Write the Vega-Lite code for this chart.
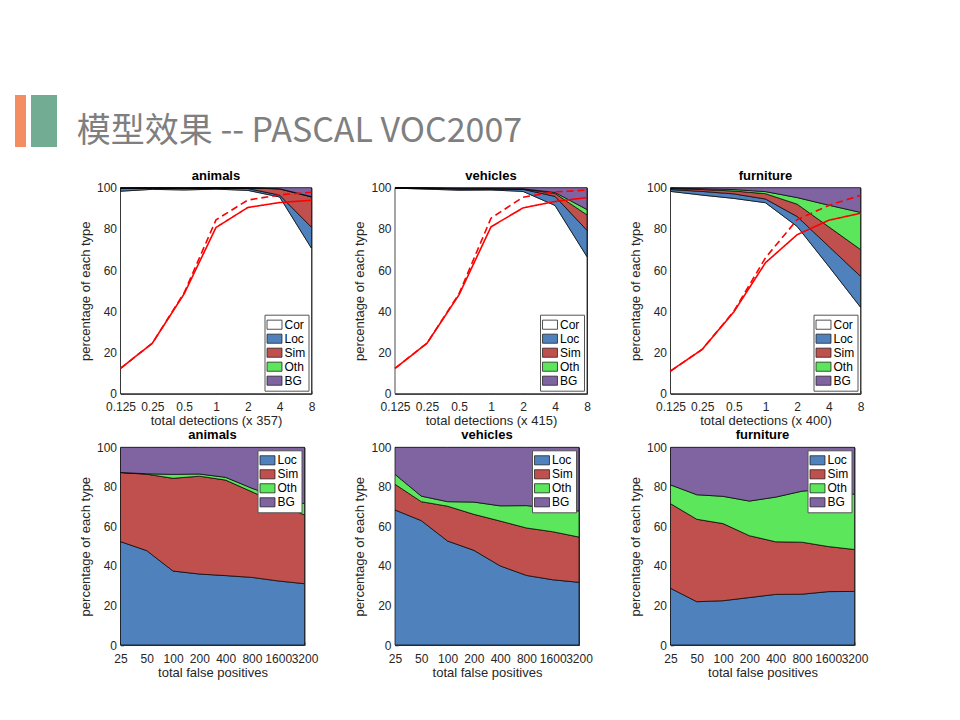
{
"$schema": "https://vega.github.io/schema/vega-lite/v6.json",
"background": "white",
"padding": {"left": 15, "top": 95, "right": 5, "bottom": 5},
"bounds": "flush",
"spacing": 40.7,
"resolve": {"scale": {"color": "independent"}, "legend": {"color": "independent"}},
"config": {
  "font": "Liberation Sans",
  "view": {"stroke": "#404040", "strokeWidth": 1},
  "axis": {"grid": false, "labelFont": "Liberation Sans", "labelFontSize": 12, "labelColor": "#262626", "titleFont": "Liberation Sans", "titleFontSize": 13, "titleFontWeight": "normal", "titleColor": "#262626", "domainColor": "#404040", "tickColor": "#404040", "tickSize": -3, "labelPadding": 7, "titlePadding": 4},
  "axisX": {"labelPadding": 11, "titlePadding": 2},
  "title": {"font": "Liberation Sans", "fontSize": 13, "fontWeight": "bold", "color": "#000000", "offset": -1, "anchor": "middle"},
  "legend": {"symbolType": "M-1.15,-0.7H1.15V0.7H-1.15Z", "symbolSize": 169, "symbolStrokeColor": "#262626", "symbolStrokeWidth": 0.8, "symbolOpacity": 1, "labelFont": "Liberation Sans", "labelFontSize": 12, "labelColor": "#000000", "fillColor": "#ffffff", "strokeColor": "#555555", "padding": 3, "rowPadding": 0, "labelOffset": 3, "offset": 3}
},
"datasets": {
"areas": [
{"p":"tl","x":0.125,"t":"Cor","lo":0,"hi":98.3},{"p":"tl","x":0.125,"t":"Loc","lo":98.3,"hi":99.7},{"p":"tl","x":0.125,"t":"Sim","lo":99.7,"hi":99.8},{"p":"tl","x":0.125,"t":"Oth","lo":99.8,"hi":99.8},{"p":"tl","x":0.125,"t":"BG","lo":99.8,"hi":100},
{"p":"tl","x":0.25,"t":"Cor","lo":0,"hi":99.2},{"p":"tl","x":0.25,"t":"Loc","lo":99.2,"hi":99.8},{"p":"tl","x":0.25,"t":"Sim","lo":99.8,"hi":99.9},{"p":"tl","x":0.25,"t":"Oth","lo":99.9,"hi":99.9},{"p":"tl","x":0.25,"t":"BG","lo":99.9,"hi":100},
{"p":"tl","x":0.5,"t":"Cor","lo":0,"hi":98.9},{"p":"tl","x":0.5,"t":"Loc","lo":98.9,"hi":99.7},{"p":"tl","x":0.5,"t":"Sim","lo":99.7,"hi":99.8},{"p":"tl","x":0.5,"t":"Oth","lo":99.8,"hi":99.8},{"p":"tl","x":0.5,"t":"BG","lo":99.8,"hi":100},
{"p":"tl","x":1,"t":"Cor","lo":0,"hi":99.3},{"p":"tl","x":1,"t":"Loc","lo":99.3,"hi":99.8},{"p":"tl","x":1,"t":"Sim","lo":99.8,"hi":99.9},{"p":"tl","x":1,"t":"Oth","lo":99.9,"hi":99.9},{"p":"tl","x":1,"t":"BG","lo":99.9,"hi":100},
{"p":"tl","x":2,"t":"Cor","lo":0,"hi":98.7},{"p":"tl","x":2,"t":"Loc","lo":98.7,"hi":99.6},{"p":"tl","x":2,"t":"Sim","lo":99.6,"hi":99.9},{"p":"tl","x":2,"t":"Oth","lo":99.9,"hi":99.9},{"p":"tl","x":2,"t":"BG","lo":99.9,"hi":100},
{"p":"tl","x":4,"t":"Cor","lo":0,"hi":95.5},{"p":"tl","x":4,"t":"Loc","lo":95.5,"hi":96.4},{"p":"tl","x":4,"t":"Sim","lo":96.4,"hi":99.4},{"p":"tl","x":4,"t":"Oth","lo":99.4,"hi":99.5},{"p":"tl","x":4,"t":"BG","lo":99.5,"hi":100},
{"p":"tl","x":8,"t":"Cor","lo":0,"hi":70.6},{"p":"tl","x":8,"t":"Loc","lo":70.6,"hi":80.8},{"p":"tl","x":8,"t":"Sim","lo":80.8,"hi":95.5},{"p":"tl","x":8,"t":"Oth","lo":95.5,"hi":95.7},{"p":"tl","x":8,"t":"BG","lo":95.7,"hi":100},
{"p":"tm","x":0.125,"t":"Cor","lo":0,"hi":99.8},{"p":"tm","x":0.125,"t":"Loc","lo":99.8,"hi":99.9},{"p":"tm","x":0.125,"t":"Sim","lo":99.9,"hi":99.95},{"p":"tm","x":0.125,"t":"Oth","lo":99.95,"hi":99.95},{"p":"tm","x":0.125,"t":"BG","lo":99.95,"hi":100},
{"p":"tm","x":0.25,"t":"Cor","lo":0,"hi":99.3},{"p":"tm","x":0.25,"t":"Loc","lo":99.3,"hi":99.7},{"p":"tm","x":0.25,"t":"Sim","lo":99.7,"hi":99.8},{"p":"tm","x":0.25,"t":"Oth","lo":99.8,"hi":99.8},{"p":"tm","x":0.25,"t":"BG","lo":99.8,"hi":100},
{"p":"tm","x":0.5,"t":"Cor","lo":0,"hi":98.8},{"p":"tm","x":0.5,"t":"Loc","lo":98.8,"hi":99.4},{"p":"tm","x":0.5,"t":"Sim","lo":99.4,"hi":99.5},{"p":"tm","x":0.5,"t":"Oth","lo":99.5,"hi":99.6},{"p":"tm","x":0.5,"t":"BG","lo":99.6,"hi":100},
{"p":"tm","x":1,"t":"Cor","lo":0,"hi":98.9},{"p":"tm","x":1,"t":"Loc","lo":98.9,"hi":99.4},{"p":"tm","x":1,"t":"Sim","lo":99.4,"hi":99.5},{"p":"tm","x":1,"t":"Oth","lo":99.5,"hi":99.6},{"p":"tm","x":1,"t":"BG","lo":99.6,"hi":100},
{"p":"tm","x":2,"t":"Cor","lo":0,"hi":98.2},{"p":"tm","x":2,"t":"Loc","lo":98.2,"hi":99.2},{"p":"tm","x":2,"t":"Sim","lo":99.2,"hi":99.4},{"p":"tm","x":2,"t":"Oth","lo":99.4,"hi":99.5},{"p":"tm","x":2,"t":"BG","lo":99.5,"hi":100},
{"p":"tm","x":4,"t":"Cor","lo":0,"hi":91.4},{"p":"tm","x":4,"t":"Loc","lo":91.4,"hi":95.8},{"p":"tm","x":4,"t":"Sim","lo":95.8,"hi":97.2},{"p":"tm","x":4,"t":"Oth","lo":97.2,"hi":97.7},{"p":"tm","x":4,"t":"BG","lo":97.7,"hi":100},
{"p":"tm","x":8,"t":"Cor","lo":0,"hi":66.5},{"p":"tm","x":8,"t":"Loc","lo":66.5,"hi":79.3},{"p":"tm","x":8,"t":"Sim","lo":79.3,"hi":86.8},{"p":"tm","x":8,"t":"Oth","lo":86.8,"hi":89.4},{"p":"tm","x":8,"t":"BG","lo":89.4,"hi":100},
{"p":"tr","x":0.125,"t":"Cor","lo":0,"hi":98.2},{"p":"tr","x":0.125,"t":"Loc","lo":98.2,"hi":99.1},{"p":"tr","x":0.125,"t":"Sim","lo":99.1,"hi":99.6},{"p":"tr","x":0.125,"t":"Oth","lo":99.6,"hi":99.8},{"p":"tr","x":0.125,"t":"BG","lo":99.8,"hi":100},
{"p":"tr","x":0.25,"t":"Cor","lo":0,"hi":96.4},{"p":"tr","x":0.25,"t":"Loc","lo":96.4,"hi":98.2},{"p":"tr","x":0.25,"t":"Sim","lo":98.2,"hi":99.1},{"p":"tr","x":0.25,"t":"Oth","lo":99.1,"hi":99.5},{"p":"tr","x":0.25,"t":"BG","lo":99.5,"hi":100},
{"p":"tr","x":0.5,"t":"Cor","lo":0,"hi":94.8},{"p":"tr","x":0.5,"t":"Loc","lo":94.8,"hi":97.0},{"p":"tr","x":0.5,"t":"Sim","lo":97.0,"hi":98.4},{"p":"tr","x":0.5,"t":"Oth","lo":98.4,"hi":99.1},{"p":"tr","x":0.5,"t":"BG","lo":99.1,"hi":100},
{"p":"tr","x":1,"t":"Cor","lo":0,"hi":92.7},{"p":"tr","x":1,"t":"Loc","lo":92.7,"hi":94.5},{"p":"tr","x":1,"t":"Sim","lo":94.5,"hi":97.1},{"p":"tr","x":1,"t":"Oth","lo":97.1,"hi":98.1},{"p":"tr","x":1,"t":"BG","lo":98.1,"hi":100},
{"p":"tr","x":2,"t":"Cor","lo":0,"hi":81.2},{"p":"tr","x":2,"t":"Loc","lo":81.2,"hi":86.0},{"p":"tr","x":2,"t":"Sim","lo":86.0,"hi":92.0},{"p":"tr","x":2,"t":"Oth","lo":92.0,"hi":95.2},{"p":"tr","x":2,"t":"BG","lo":95.2,"hi":100},
{"p":"tr","x":4,"t":"Cor","lo":0,"hi":61.8},{"p":"tr","x":4,"t":"Loc","lo":61.8,"hi":71.5},{"p":"tr","x":4,"t":"Sim","lo":71.5,"hi":81.0},{"p":"tr","x":4,"t":"Oth","lo":81.0,"hi":91.5},{"p":"tr","x":4,"t":"BG","lo":91.5,"hi":100},
{"p":"tr","x":8,"t":"Cor","lo":0,"hi":42.0},{"p":"tr","x":8,"t":"Loc","lo":42.0,"hi":57.0},{"p":"tr","x":8,"t":"Sim","lo":57.0,"hi":70.0},{"p":"tr","x":8,"t":"Oth","lo":70.0,"hi":88.0},{"p":"tr","x":8,"t":"BG","lo":88.0,"hi":100},
{"p":"bl","x":25,"t":"Loc","lo":0,"hi":52.3},{"p":"bl","x":25,"t":"Sim","lo":52.3,"hi":87.2},{"p":"bl","x":25,"t":"Oth","lo":87.2,"hi":87.3},{"p":"bl","x":25,"t":"BG","lo":87.3,"hi":100},
{"p":"bl","x":50,"t":"Loc","lo":0,"hi":47.7},{"p":"bl","x":50,"t":"Sim","lo":47.7,"hi":86.4},{"p":"bl","x":50,"t":"Oth","lo":86.4,"hi":86.6},{"p":"bl","x":50,"t":"BG","lo":86.6,"hi":100},
{"p":"bl","x":100,"t":"Loc","lo":0,"hi":37.4},{"p":"bl","x":100,"t":"Sim","lo":37.4,"hi":84.3},{"p":"bl","x":100,"t":"Oth","lo":84.3,"hi":86.3},{"p":"bl","x":100,"t":"BG","lo":86.3,"hi":100},
{"p":"bl","x":200,"t":"Loc","lo":0,"hi":35.9},{"p":"bl","x":200,"t":"Sim","lo":35.9,"hi":85.4},{"p":"bl","x":200,"t":"Oth","lo":85.4,"hi":86.5},{"p":"bl","x":200,"t":"BG","lo":86.5,"hi":100},
{"p":"bl","x":400,"t":"Loc","lo":0,"hi":35.1},{"p":"bl","x":400,"t":"Sim","lo":35.1,"hi":83.4},{"p":"bl","x":400,"t":"Oth","lo":83.4,"hi":84.8},{"p":"bl","x":400,"t":"BG","lo":84.8,"hi":100},
{"p":"bl","x":800,"t":"Loc","lo":0,"hi":34.2},{"p":"bl","x":800,"t":"Sim","lo":34.2,"hi":77.5},{"p":"bl","x":800,"t":"Oth","lo":77.5,"hi":79.3},{"p":"bl","x":800,"t":"BG","lo":79.3,"hi":100},
{"p":"bl","x":1600,"t":"Loc","lo":0,"hi":32.4},{"p":"bl","x":1600,"t":"Sim","lo":32.4,"hi":71.2},{"p":"bl","x":1600,"t":"Oth","lo":71.2,"hi":74.5},{"p":"bl","x":1600,"t":"BG","lo":74.5,"hi":100},
{"p":"bl","x":3200,"t":"Loc","lo":0,"hi":31.0},{"p":"bl","x":3200,"t":"Sim","lo":31.0,"hi":65.8},{"p":"bl","x":3200,"t":"Oth","lo":65.8,"hi":71.5},{"p":"bl","x":3200,"t":"BG","lo":71.5,"hi":100},
{"p":"bm","x":25,"t":"Loc","lo":0,"hi":68.3},{"p":"bm","x":25,"t":"Sim","lo":68.3,"hi":81.3},{"p":"bm","x":25,"t":"Oth","lo":81.3,"hi":86.3},{"p":"bm","x":25,"t":"BG","lo":86.3,"hi":100},
{"p":"bm","x":50,"t":"Loc","lo":0,"hi":62.9},{"p":"bm","x":50,"t":"Sim","lo":62.9,"hi":72.5},{"p":"bm","x":50,"t":"Oth","lo":72.5,"hi":75.3},{"p":"bm","x":50,"t":"BG","lo":75.3,"hi":100},
{"p":"bm","x":100,"t":"Loc","lo":0,"hi":52.6},{"p":"bm","x":100,"t":"Sim","lo":52.6,"hi":70.2},{"p":"bm","x":100,"t":"Oth","lo":70.2,"hi":72.5},{"p":"bm","x":100,"t":"BG","lo":72.5,"hi":100},
{"p":"bm","x":200,"t":"Loc","lo":0,"hi":47.9},{"p":"bm","x":200,"t":"Sim","lo":47.9,"hi":66.1},{"p":"bm","x":200,"t":"Oth","lo":66.1,"hi":72.3},{"p":"bm","x":200,"t":"BG","lo":72.3,"hi":100},
{"p":"bm","x":400,"t":"Loc","lo":0,"hi":40.0},{"p":"bm","x":400,"t":"Sim","lo":40.0,"hi":62.7},{"p":"bm","x":400,"t":"Oth","lo":62.7,"hi":70.4},{"p":"bm","x":400,"t":"BG","lo":70.4,"hi":100},
{"p":"bm","x":800,"t":"Loc","lo":0,"hi":35.2},{"p":"bm","x":800,"t":"Sim","lo":35.2,"hi":59.2},{"p":"bm","x":800,"t":"Oth","lo":59.2,"hi":70.5},{"p":"bm","x":800,"t":"BG","lo":70.5,"hi":100},
{"p":"bm","x":1600,"t":"Loc","lo":0,"hi":33.0},{"p":"bm","x":1600,"t":"Sim","lo":33.0,"hi":57.3},{"p":"bm","x":1600,"t":"Oth","lo":57.3,"hi":69.2},{"p":"bm","x":1600,"t":"BG","lo":69.2,"hi":100},
{"p":"bm","x":3200,"t":"Loc","lo":0,"hi":31.7},{"p":"bm","x":3200,"t":"Sim","lo":31.7,"hi":54.6},{"p":"bm","x":3200,"t":"Oth","lo":54.6,"hi":67.8},{"p":"bm","x":3200,"t":"BG","lo":67.8,"hi":100},
{"p":"br","x":25,"t":"Loc","lo":0,"hi":28.7},{"p":"br","x":25,"t":"Sim","lo":28.7,"hi":71.5},{"p":"br","x":25,"t":"Oth","lo":71.5,"hi":81.0},{"p":"br","x":25,"t":"BG","lo":81.0,"hi":100},
{"p":"br","x":50,"t":"Loc","lo":0,"hi":21.9},{"p":"br","x":50,"t":"Sim","lo":21.9,"hi":63.6},{"p":"br","x":50,"t":"Oth","lo":63.6,"hi":76.0},{"p":"br","x":50,"t":"BG","lo":76.0,"hi":100},
{"p":"br","x":100,"t":"Loc","lo":0,"hi":22.4},{"p":"br","x":100,"t":"Sim","lo":22.4,"hi":61.4},{"p":"br","x":100,"t":"Oth","lo":61.4,"hi":75.2},{"p":"br","x":100,"t":"BG","lo":75.2,"hi":100},
{"p":"br","x":200,"t":"Loc","lo":0,"hi":24.0},{"p":"br","x":200,"t":"Sim","lo":24.0,"hi":55.3},{"p":"br","x":200,"t":"Oth","lo":55.3,"hi":72.8},{"p":"br","x":200,"t":"BG","lo":72.8,"hi":100},
{"p":"br","x":400,"t":"Loc","lo":0,"hi":25.6},{"p":"br","x":400,"t":"Sim","lo":25.6,"hi":52.2},{"p":"br","x":400,"t":"Oth","lo":52.2,"hi":74.8},{"p":"br","x":400,"t":"BG","lo":74.8,"hi":100},
{"p":"br","x":800,"t":"Loc","lo":0,"hi":25.7},{"p":"br","x":800,"t":"Sim","lo":25.7,"hi":52.0},{"p":"br","x":800,"t":"Oth","lo":52.0,"hi":77.8},{"p":"br","x":800,"t":"BG","lo":77.8,"hi":100},
{"p":"br","x":1600,"t":"Loc","lo":0,"hi":27.0},{"p":"br","x":1600,"t":"Sim","lo":27.0,"hi":49.8},{"p":"br","x":1600,"t":"Oth","lo":49.8,"hi":79.0},{"p":"br","x":1600,"t":"BG","lo":79.0,"hi":100},
{"p":"br","x":3200,"t":"Loc","lo":0,"hi":27.1},{"p":"br","x":3200,"t":"Sim","lo":27.1,"hi":48.3},{"p":"br","x":3200,"t":"Oth","lo":48.3,"hi":76.2},{"p":"br","x":3200,"t":"BG","lo":76.2,"hi":100}
],
"rec": [
{"p":"tl","k":"solid","x":0.125,"y":12.3},{"p":"tl","k":"solid","x":0.25,"y":24.5},{"p":"tl","k":"solid","x":0.5,"y":48.5},{"p":"tl","k":"solid","x":1,"y":80.7},{"p":"tl","k":"solid","x":2,"y":90.4},{"p":"tl","k":"solid","x":4,"y":92.8},{"p":"tl","k":"solid","x":8,"y":93.9},
{"p":"tl","k":"dashed","x":0.125,"y":12.3},{"p":"tl","k":"dashed","x":0.25,"y":24.5},{"p":"tl","k":"dashed","x":0.5,"y":49},{"p":"tl","k":"dashed","x":1,"y":84.4},{"p":"tl","k":"dashed","x":2,"y":94},{"p":"tl","k":"dashed","x":4,"y":96.5},{"p":"tl","k":"dashed","x":8,"y":97.8},
{"p":"tm","k":"solid","x":0.125,"y":12.3},{"p":"tm","k":"solid","x":0.25,"y":24.5},{"p":"tm","k":"solid","x":0.5,"y":48},{"p":"tm","k":"solid","x":1,"y":81},{"p":"tm","k":"solid","x":2,"y":90.2},{"p":"tm","k":"solid","x":4,"y":93.3},{"p":"tm","k":"solid","x":8,"y":95.2},
{"p":"tm","k":"dashed","x":0.125,"y":12.3},{"p":"tm","k":"dashed","x":0.25,"y":24.5},{"p":"tm","k":"dashed","x":0.5,"y":48.5},{"p":"tm","k":"dashed","x":1,"y":85.2},{"p":"tm","k":"dashed","x":2,"y":95.4},{"p":"tm","k":"dashed","x":4,"y":98},{"p":"tm","k":"dashed","x":8,"y":98.8},
{"p":"tr","k":"solid","x":0.125,"y":11},{"p":"tr","k":"solid","x":0.25,"y":21.5},{"p":"tr","k":"solid","x":0.5,"y":39.7},{"p":"tr","k":"solid","x":1,"y":63.6},{"p":"tr","k":"solid","x":2,"y":77.2},{"p":"tr","k":"solid","x":4,"y":84.2},{"p":"tr","k":"solid","x":8,"y":87.6},
{"p":"tr","k":"dashed","x":0.125,"y":11},{"p":"tr","k":"dashed","x":0.25,"y":21.5},{"p":"tr","k":"dashed","x":0.5,"y":40},{"p":"tr","k":"dashed","x":1,"y":66},{"p":"tr","k":"dashed","x":2,"y":84.5},{"p":"tr","k":"dashed","x":4,"y":91.4},{"p":"tr","k":"dashed","x":8,"y":96.3}
]
},
"vconcat": [
  {
    "width": 569, "height": 52, "view": {"stroke": null},
    "layer": [
      {"data": {"values": [{"k": "a"}]}, "mark": {"type": "bar", "color": "#f58d63"},
       "encoding": {"x": {"field": "k", "type": "nominal", "scale": {"type": "band", "domain": ["a", "b"], "range": [0, 34.5], "paddingInner": 0.532, "paddingOuter": 0}, "axis": null}}},
      {"data": {"values": [{"k": "b"}]}, "mark": {"type": "bar", "color": "#72ac92", "width": 26},
       "encoding": {"x": {"field": "k", "type": "nominal", "axis": null}}},
      {"data": {"values": [{"t": "模型效果 -- PASCAL VOC2007"}]}, "mark": {"type": "text", "font": "Noto Sans CJK SC", "fontSize": 34, "color": "#7f7f7f", "align": "center", "baseline": "middle", "dy": 11},
       "encoding": {"text": {"field": "t", "type": "nominal"}}}
    ]
  },
  {
    "bounds": "flush", "columns": 4, "spacing": {"row": 53.6, "column": 83.5},
    "resolve": {"scale": {"color": "independent"}, "legend": {"color": "independent"}},
    "concat": [
      {"width": 21.5, "height": 206, "view": {"stroke": null}, "data": {"values": []}, "mark": "point"},
      {"width": 191, "height": 206, "title": "animals",
       "layer": [
         {"data": {"name": "areas"}, "transform": [{"filter": "datum.p==='tl'"}],
          "mark": {"type": "area", "stroke": "black", "strokeWidth": 0.7},
          "encoding": {
            "x": {"field": "x", "type": "quantitative", "scale": {"type": "log", "base": 2, "domain": [0.125, 8], "nice": false}, "axis": {"values": [0.125, 0.25, 0.5, 1, 2, 4, 8], "format": "~g", "labelFlush": false, "labelOverlap": false, "title": "total detections (x 357)"}},
            "y": {"field": "hi", "type": "quantitative", "scale": {"domain": [0, 100], "nice": false}, "axis": {"values": [0, 20, 40, 60, 80, 100], "title": "percentage of each type"}},
            "y2": {"field": "lo"},
            "color": {"field": "t", "type": "nominal", "scale": {"domain": ["Cor", "Loc", "Sim", "Oth", "BG"], "range": ["#ffffff", "#4f81bd", "#c0504d", "#5ce65c", "#8064a2"]}, "legend": {"title": null, "orient": "bottom-right"}}
          }},
         {"data": {"name": "rec"}, "transform": [{"filter": "datum.p==='tl'"}],
          "mark": {"type": "line", "color": "#ff0000", "strokeWidth": 1.6},
          "encoding": {"x": {"field": "x", "type": "quantitative"}, "y": {"field": "y", "type": "quantitative"},
            "strokeDash": {"field": "k", "type": "nominal", "scale": {"domain": ["solid", "dashed"], "range": [[1, 0], [7, 4]]}, "legend": null}}}
       ]},
      {"width": 192, "height": 206, "title": "vehicles",
       "layer": [
         {"data": {"name": "areas"}, "transform": [{"filter": "datum.p==='tm'"}],
          "mark": {"type": "area", "stroke": "black", "strokeWidth": 0.7},
          "encoding": {
            "x": {"field": "x", "type": "quantitative", "scale": {"type": "log", "base": 2, "domain": [0.125, 8], "nice": false}, "axis": {"values": [0.125, 0.25, 0.5, 1, 2, 4, 8], "format": "~g", "labelFlush": false, "labelOverlap": false, "title": "total detections (x 415)"}},
            "y": {"field": "hi", "type": "quantitative", "scale": {"domain": [0, 100], "nice": false}, "axis": {"values": [0, 20, 40, 60, 80, 100], "title": "percentage of each type"}},
            "y2": {"field": "lo"},
            "color": {"field": "t", "type": "nominal", "scale": {"domain": ["Cor", "Loc", "Sim", "Oth", "BG"], "range": ["#ffffff", "#4f81bd", "#c0504d", "#5ce65c", "#8064a2"]}, "legend": {"title": null, "orient": "bottom-right"}}
          }},
         {"data": {"name": "rec"}, "transform": [{"filter": "datum.p==='tm'"}],
          "mark": {"type": "line", "color": "#ff0000", "strokeWidth": 1.6},
          "encoding": {"x": {"field": "x", "type": "quantitative"}, "y": {"field": "y", "type": "quantitative"},
            "strokeDash": {"field": "k", "type": "nominal", "scale": {"domain": ["solid", "dashed"], "range": [[1, 0], [7, 4]]}, "legend": null}}}
       ]},
      {"width": 190, "height": 206, "title": "furniture",
       "layer": [
         {"data": {"name": "areas"}, "transform": [{"filter": "datum.p==='tr'"}],
          "mark": {"type": "area", "stroke": "black", "strokeWidth": 0.7},
          "encoding": {
            "x": {"field": "x", "type": "quantitative", "scale": {"type": "log", "base": 2, "domain": [0.125, 8], "nice": false}, "axis": {"values": [0.125, 0.25, 0.5, 1, 2, 4, 8], "format": "~g", "labelFlush": false, "labelOverlap": false, "title": "total detections (x 400)"}},
            "y": {"field": "hi", "type": "quantitative", "scale": {"domain": [0, 100], "nice": false}, "axis": {"values": [0, 20, 40, 60, 80, 100], "title": "percentage of each type"}},
            "y2": {"field": "lo"},
            "color": {"field": "t", "type": "nominal", "scale": {"domain": ["Cor", "Loc", "Sim", "Oth", "BG"], "range": ["#ffffff", "#4f81bd", "#c0504d", "#5ce65c", "#8064a2"]}, "legend": {"title": null, "orient": "bottom-right"}}
          }},
         {"data": {"name": "rec"}, "transform": [{"filter": "datum.p==='tr'"}],
          "mark": {"type": "line", "color": "#ff0000", "strokeWidth": 1.6},
          "encoding": {"x": {"field": "x", "type": "quantitative"}, "y": {"field": "y", "type": "quantitative"},
            "strokeDash": {"field": "k", "type": "nominal", "scale": {"domain": ["solid", "dashed"], "range": [[1, 0], [7, 4]]}, "legend": null}}}
       ]},
      {"width": 21.5, "height": 197.7, "view": {"stroke": null}, "data": {"values": []}, "mark": "point"},
      {"width": 184, "height": 197.7, "title": "animals",
       "data": {"name": "areas"}, "transform": [{"filter": "datum.p==='bl'"}],
       "mark": {"type": "area", "stroke": "black", "strokeWidth": 0.7},
       "encoding": {
         "x": {"field": "x", "type": "quantitative", "scale": {"type": "log", "base": 2, "domain": [25, 3200], "nice": false}, "axis": {"values": [25, 50, 100, 200, 400, 800, 1600, 3200], "format": "d", "labelFlush": false, "labelOverlap": false, "title": "total false positives"}},
         "y": {"field": "hi", "type": "quantitative", "scale": {"domain": [0, 100], "nice": false}, "axis": {"values": [0, 20, 40, 60, 80, 100], "title": "percentage of each type"}},
         "y2": {"field": "lo"},
         "color": {"field": "t", "type": "nominal", "scale": {"domain": ["Loc", "Sim", "Oth", "BG"], "range": ["#4f81bd", "#c0504d", "#5ce65c", "#8064a2"]}, "legend": {"title": null, "orient": "top-right"}}
       }},
      {"width": 184, "height": 197.7, "title": "vehicles",
       "data": {"name": "areas"}, "transform": [{"filter": "datum.p==='bm'"}],
       "mark": {"type": "area", "stroke": "black", "strokeWidth": 0.7},
       "encoding": {
         "x": {"field": "x", "type": "quantitative", "scale": {"type": "log", "base": 2, "domain": [25, 3200], "nice": false}, "axis": {"values": [25, 50, 100, 200, 400, 800, 1600, 3200], "format": "d", "labelFlush": false, "labelOverlap": false, "title": "total false positives"}},
         "y": {"field": "hi", "type": "quantitative", "scale": {"domain": [0, 100], "nice": false}, "axis": {"values": [0, 20, 40, 60, 80, 100], "title": "percentage of each type"}},
         "y2": {"field": "lo"},
         "color": {"field": "t", "type": "nominal", "scale": {"domain": ["Loc", "Sim", "Oth", "BG"], "range": ["#4f81bd", "#c0504d", "#5ce65c", "#8064a2"]}, "legend": {"title": null, "orient": "top-right"}}
       }},
      {"width": 184, "height": 197.7, "title": "furniture",
       "data": {"name": "areas"}, "transform": [{"filter": "datum.p==='br'"}],
       "mark": {"type": "area", "stroke": "black", "strokeWidth": 0.7},
       "encoding": {
         "x": {"field": "x", "type": "quantitative", "scale": {"type": "log", "base": 2, "domain": [25, 3200], "nice": false}, "axis": {"values": [25, 50, 100, 200, 400, 800, 1600, 3200], "format": "d", "labelFlush": false, "labelOverlap": false, "title": "total false positives"}},
         "y": {"field": "hi", "type": "quantitative", "scale": {"domain": [0, 100], "nice": false}, "axis": {"values": [0, 20, 40, 60, 80, 100], "title": "percentage of each type"}},
         "y2": {"field": "lo"},
         "color": {"field": "t", "type": "nominal", "scale": {"domain": ["Loc", "Sim", "Oth", "BG"], "range": ["#4f81bd", "#c0504d", "#5ce65c", "#8064a2"]}, "legend": {"title": null, "orient": "top-right"}}
       }}
    ]
  }
]
}
